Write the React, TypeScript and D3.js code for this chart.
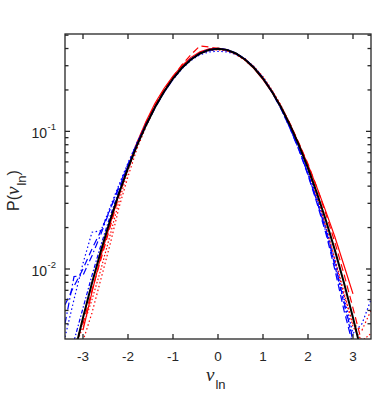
import React, { useEffect, useRef } from "react";
import * as d3 from "d3";

// bin centres shared by every curve
const xs = [
  -3.4, -3.2, -3.0, -2.8, -2.6, -2.4, -2.2, -2.0, -1.8, -1.6, -1.4, -1.2,
  -1.0, -0.8, -0.6, -0.4, -0.2, 0, 0.2, 0.4, 0.6, 0.8, 1.0, 1.2, 1.4, 1.6,
  1.8, 2.0, 2.2, 2.4, 2.6, 2.8, 3.0, 3.2, 3.4,
];

// standard normal reference (black)
const normalRef = [
  0.00123, 0.00238, 0.00443, 0.0079, 0.0136, 0.0224, 0.0355, 0.054, 0.079,
  0.1109, 0.1497, 0.1942, 0.242, 0.2897, 0.3332, 0.3683, 0.391, 0.3989, 0.391,
  0.3683, 0.3332, 0.2897, 0.242, 0.1942, 0.1497, 0.1109, 0.079, 0.054, 0.0355,
  0.0224, 0.0136, 0.0079, 0.00443, 0.00238, 0.00123,
];

const red1 = [
  null, null, 0.0036, 0.0068, 0.0125, 0.021, 0.035, 0.056, 0.083, 0.118, 0.16,
  0.205, 0.252, 0.3, 0.345, 0.378, 0.398, 0.402, 0.392, 0.366, 0.33, 0.286,
  0.238, 0.192, 0.149, 0.112, 0.081, 0.057, 0.039, 0.026, 0.017, 0.0106,
  0.0066, null, null,
];
const red2 = [
  null, 0.0028, 0.004, 0.007, 0.0118, 0.02, 0.034, 0.054, 0.082, 0.116, 0.155,
  0.2, 0.25, 0.305, 0.362, 0.418, 0.41, 0.4, 0.388, 0.368, 0.336, 0.292,
  0.245, 0.196, 0.152, 0.114, 0.082, 0.058, 0.039, 0.025, 0.0155, 0.0092,
  0.0052, 0.0029, null,
];
const red3 = [
  null, null, 0.003, 0.0048, 0.0085, 0.015, 0.028, 0.047, 0.075, 0.108, 0.15,
  0.196, 0.244, 0.293, 0.338, 0.372, 0.392, 0.396, 0.386, 0.362, 0.328, 0.288,
  0.243, 0.197, 0.154, 0.113, 0.08, 0.054, 0.034, 0.02, 0.0115, 0.0065, 0.004,
  0.0036, 0.005,
];
const red4 = [
  null, 0.0026, 0.0038, 0.006, 0.01, 0.0175, 0.031, 0.052, 0.079, 0.114, 0.153,
  0.197, 0.243, 0.29, 0.333, 0.368, 0.386, 0.392, 0.384, 0.366, 0.336, 0.296,
  0.25, 0.2, 0.154, 0.114, 0.08, 0.053, 0.033, 0.02, 0.0118, 0.0068, 0.0038,
  0.003, 0.0034,
];
const blue1 = [
  0.004, 0.0088, 0.009, 0.0125, 0.018, 0.027, 0.04, 0.058, 0.082, 0.112, 0.15,
  0.193, 0.24, 0.288, 0.332, 0.366, 0.388, 0.396, 0.39, 0.37, 0.336, 0.292,
  0.244, 0.194, 0.147, 0.106, 0.074, 0.049, 0.031, 0.019, 0.0108, 0.0058,
  0.0031, null, null,
];
const blue2 = [
  0.0055, 0.0075, 0.01, 0.014, 0.019, 0.027, 0.039, 0.056, 0.08, 0.11, 0.148,
  0.192, 0.24, 0.29, 0.336, 0.37, 0.392, 0.398, 0.391, 0.368, 0.334, 0.291,
  0.243, 0.193, 0.146, 0.105, 0.073, 0.048, 0.03, 0.018, 0.0098, 0.005,
  0.0028, null, null,
];
const blue3 = [
  0.0032, 0.006, 0.011, 0.0185, 0.019, 0.028, 0.041, 0.059, 0.083, 0.113, 0.15,
  0.192, 0.238, 0.285, 0.328, 0.36, 0.378, 0.382, 0.378, 0.362, 0.334, 0.294,
  0.247, 0.197, 0.15, 0.109, 0.076, 0.051, 0.033, 0.02, 0.0115, 0.0062,
  0.0034, 0.004, 0.006,
];
const blue4 = [
  null, 0.003, 0.0052, 0.009, 0.015, 0.024, 0.037, 0.056, 0.081, 0.112, 0.15,
  0.194, 0.242, 0.291, 0.336, 0.372, 0.395, 0.401, 0.394, 0.371, 0.336, 0.292,
  0.243, 0.193, 0.146, 0.106, 0.074, 0.049, 0.031, 0.0185, 0.0105, 0.0056,
  0.003, null, null,
];

const curves = [
  { values: red1, color: "#ff0000", dash: null },
  { values: red2, color: "#ff0000", dash: "7,4" },
  { values: red3, color: "#ff0000", dash: "1.5,2.5" },
  { values: red4, color: "#ff0000", dash: "1.5,2" },
  { values: blue1, color: "#0000ff", dash: "7,3,1.5,3" },
  { values: blue2, color: "#0000ff", dash: "7,4" },
  { values: blue3, color: "#0000ff", dash: "1.5,2.5" },
  { values: blue4, color: "#0000ff", dash: "4,2,1.5,2" },
];

const xTicks = [-3, -2, -1, 0, 1, 2, 3];
const yMajor = [0.01, 0.1];
const yMinor = [
  0.004, 0.005, 0.006, 0.007, 0.008, 0.009, 0.02, 0.03, 0.04, 0.05, 0.06,
  0.07, 0.08, 0.09, 0.2, 0.3, 0.4, 0.5,
];

const W = 374;
const H = 396;
const margin = { top: 34, right: 3, bottom: 57, left: 65 };

export default function App() {
  const ref = useRef<SVGSVGElement>(null);

  useEffect(() => {
    const svg = d3.select(ref.current);
    svg.selectAll("*").remove();

    const x = d3
      .scaleLinear()
      .domain([-3.4, 3.4])
      .range([margin.left, W - margin.right]);
    const y = d3
      .scaleLog()
      .domain([0.0031, 0.51])
      .range([H - margin.bottom, margin.top]);

    const [x0, x1] = x.range();
    const [y0, y1] = [y.range()[1], y.range()[0]];
    const axisColor = "#262626";
    const font = "'Liberation Sans', Arial, sans-serif";
    const serif = "'Liberation Serif', 'Times New Roman', serif";

    svg
      .append("defs")
      .append("clipPath")
      .attr("id", "plot-clip")
      .append("rect")
      .attr("x", x0)
      .attr("y", y0)
      .attr("width", x1 - x0)
      .attr("height", y1 - y0);

    const plot = svg.append("g").attr("clip-path", "url(#plot-clip)");

    const line = d3
      .line<number | null>()
      .defined((d) => d != null)
      .x((d, i) => x(xs[i]))
      .y((d) => y(d as number));

    curves.forEach((c) => {
      plot
        .append("path")
        .attr("d", line(c.values))
        .attr("fill", "none")
        .attr("stroke", c.color)
        .attr("stroke-width", 1.2)
        .attr("stroke-dasharray", c.dash);
    });

    plot
      .append("path")
      .attr("d", line(normalRef))
      .attr("fill", "none")
      .attr("stroke", "#000")
      .attr("stroke-width", 2);

    // box
    svg
      .append("rect")
      .attr("x", x0)
      .attr("y", y0)
      .attr("width", x1 - x0)
      .attr("height", y1 - y0)
      .attr("fill", "none")
      .attr("stroke", axisColor)
      .attr("stroke-width", 1.3);

    const ticks = svg.append("g").attr("stroke", axisColor).attr("stroke-width", 1.3);

    xTicks.forEach((t) => {
      ticks.append("line").attr("x1", x(t)).attr("x2", x(t)).attr("y1", y1).attr("y2", y1 - 5);
      ticks.append("line").attr("x1", x(t)).attr("x2", x(t)).attr("y1", y0).attr("y2", y0 + 5);
    });
    yMajor.forEach((t) => {
      ticks.append("line").attr("x1", x0).attr("x2", x0 + 5).attr("y1", y(t)).attr("y2", y(t));
      ticks.append("line").attr("x1", x1).attr("x2", x1 - 5).attr("y1", y(t)).attr("y2", y(t));
    });
    yMinor.forEach((t) => {
      ticks.append("line").attr("x1", x0).attr("x2", x0 + 3.5).attr("y1", y(t)).attr("y2", y(t));
      ticks.append("line").attr("x1", x1).attr("x2", x1 - 3.5).attr("y1", y(t)).attr("y2", y(t));
    });

    // x tick labels
    svg
      .append("g")
      .selectAll("text")
      .data(xTicks)
      .join("text")
      .attr("x", (d) => x(d))
      .attr("y", y1 + 22)
      .attr("text-anchor", "middle")
      .attr("font-family", font)
      .attr("font-size", 13.5)
      .attr("fill", axisColor)
      .text((d) => (d < 0 ? `-${Math.abs(d)}` : `${d}`));

    // y tick labels 10^k
    yMajor.forEach((t) => {
      const e = Math.round(Math.log10(t));
      svg
        .append("text")
        .attr("x", x0 - 18)
        .attr("y", y(t) + 7)
        .attr("text-anchor", "end")
        .attr("font-family", font)
        .attr("font-size", 14)
        .attr("fill", axisColor)
        .text("10");
      svg
        .append("text")
        .attr("x", x0 - 17.5)
        .attr("y", y(t) - 1)
        .attr("font-family", font)
        .attr("font-size", 9.5)
        .attr("fill", axisColor)
        .text(`-${Math.abs(e)}`);
    });

    // x axis title
    const xt = svg
      .append("text")
      .attr("x", 206)
      .attr("y", 381)
      .attr("fill", axisColor);
    xt.append("tspan")
      .attr("font-family", serif)
      .attr("font-style", "italic")
      .attr("font-size", 19)
      .text("ν");
    xt.append("tspan")
      .attr("font-family", font)
      .attr("font-size", 13)
      .attr("dx", 1)
      .attr("dy", 8)
      .text("ln");

    // y axis title
    const yt = svg
      .append("text")
      .attr("transform", `translate(19,${(y0 + y1) / 2 + 4}) rotate(-90)`)
      .attr("text-anchor", "middle")
      .attr("fill", axisColor);
    yt.append("tspan").attr("font-family", font).attr("font-size", 16).text("P(");
    yt.append("tspan")
      .attr("font-family", serif)
      .attr("font-style", "italic")
      .attr("font-size", 19)
      .text("ν");
    yt.append("tspan")
      .attr("font-family", font)
      .attr("font-size", 13)
      .attr("dx", 1)
      .attr("dy", 7)
      .text("ln");
    yt.append("tspan")
      .attr("font-family", font)
      .attr("font-size", 16)
      .attr("dy", -7)
      .text(")");
  }, []);

  return (
    <svg
      ref={ref}
      width={W}
      height={H}
      style={{ position: "absolute", left: 0, top: 0, background: "#fff" }}
    />
  );
}
